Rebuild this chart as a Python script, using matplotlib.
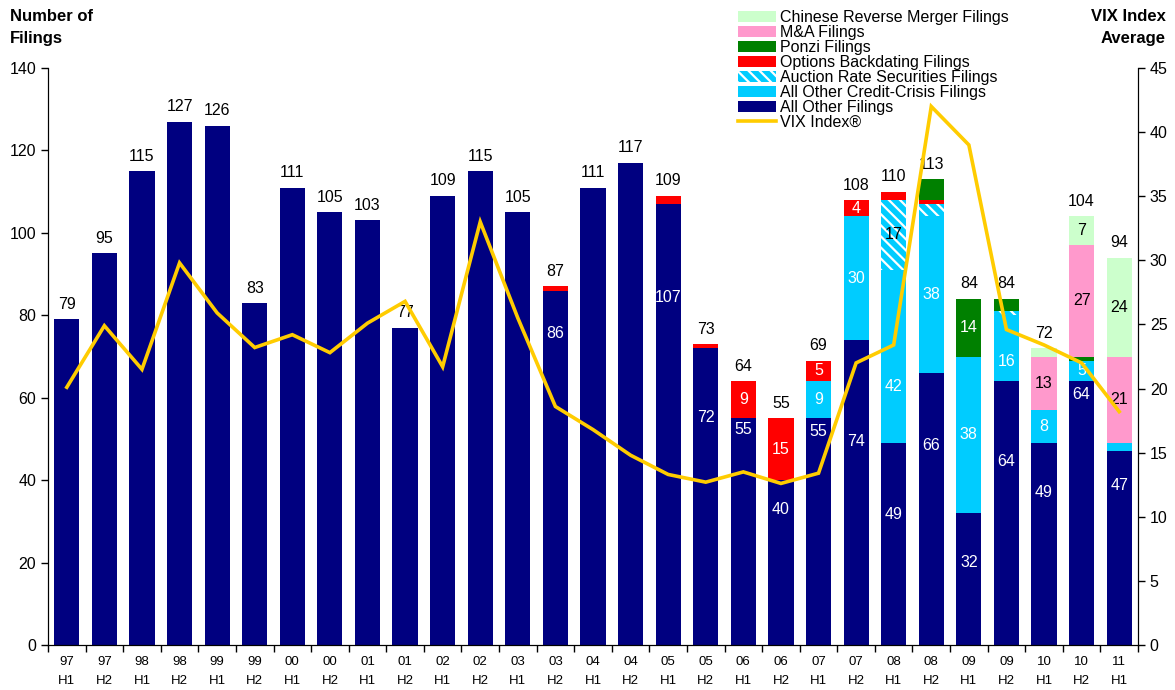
import numpy as np
import matplotlib
matplotlib.use("Agg")
import matplotlib.pyplot as plt
from matplotlib.ticker import FixedLocator
from matplotlib import font_manager

plt.rcParams['font.family'] = ['Liberation Sans', 'DejaVu Sans']
plt.rcParams['hatch.linewidth'] = 1.6

# ---------------- data ----------------
periods = ['97\nH1', '97\nH2', '98\nH1', '98\nH2', '99\nH1', '99\nH2', '00\nH1', '00\nH2',
           '01\nH1', '01\nH2', '02\nH1', '02\nH2', '03\nH1', '03\nH2', '04\nH1', '04\nH2',
           '05\nH1', '05\nH2', '06\nH1', '06\nH2', '07\nH1', '07\nH2', '08\nH1', '08\nH2',
           '09\nH1', '09\nH2', '10\nH1', '10\nH2', '11\nH1']

all_other = [79, 95, 115, 127, 126, 83, 111, 105, 103, 77, 109, 115, 105, 86, 111, 117,
             107, 72, 55, 40, 55, 74, 49, 66, 32, 64, 49, 64, 47]
credit    = [0, 0, 0, 0, 0, 0, 0, 0, 0, 0, 0, 0, 0, 0, 0, 0,
             0, 0, 0, 0, 9, 30, 42, 38, 38, 16, 8, 5, 2]
ars       = [0, 0, 0, 0, 0, 0, 0, 0, 0, 0, 0, 0, 0, 0, 0, 0,
             0, 0, 0, 0, 0, 0, 17, 3, 0, 1, 0, 0, 0]
options   = [0, 0, 0, 0, 0, 0, 0, 0, 0, 0, 0, 0, 0, 1, 0, 0,
             2, 1, 9, 15, 5, 4, 2, 1, 0, 0, 0, 0, 0]
ponzi     = [0, 0, 0, 0, 0, 0, 0, 0, 0, 0, 0, 0, 0, 0, 0, 0,
             0, 0, 0, 0, 0, 0, 0, 5, 14, 3, 0, 1, 0]
ma        = [0, 0, 0, 0, 0, 0, 0, 0, 0, 0, 0, 0, 0, 0, 0, 0,
             0, 0, 0, 0, 0, 0, 0, 0, 0, 0, 13, 27, 21]
chinese   = [0, 0, 0, 0, 0, 0, 0, 0, 0, 0, 0, 0, 0, 0, 0, 0,
             0, 0, 0, 0, 0, 0, 0, 0, 0, 0, 2, 7, 24]

vix = [20.1, 24.9, 21.5, 29.8, 25.9, 23.2, 24.2, 22.8, 25.1, 26.8, 21.7, 33.0, 25.5, 18.6,
       16.8, 14.8, 13.3, 12.7, 13.5, 12.6, 13.4, 22.0, 23.4, 42.0, 39.0, 24.6, 23.4, 22.0, 18.2]

# label layout (data-unit heights for the navy-segment labels, as placed in the original)
navy_label_y = {13: 75.7, 16: 84.2, 17: 55.3, 18: 52.2, 19: 32.8, 20: 51.8, 21: 49.3,
                22: 31.6, 23: 48.5, 24: 19.9, 25: 44.5, 26: 36.9, 27: 60.7, 28: 38.8}
label_y_override = {('credit', 22): 62.7, ('credit', 25): 68.8}
label_skip = {('ponzi', 23)}

# narrow font for the category labels if available
avail = {f.name for f in font_manager.fontManager.ttflist}
xfam = ['Liberation Sans Narrow', 'Liberation Sans'] if 'Liberation Sans Narrow' in avail \
    else ['Liberation Sans', 'DejaVu Sans']
xsize = 10 if 'Liberation Sans Narrow' in avail else 9.5

# ---------------- figure ----------------
fig = plt.figure(figsize=(11.75, 6.9), dpi=100)
ax = fig.add_axes([48 / 1175, 45 / 690, 1090 / 1175, 577 / 690])
x = np.arange(len(periods))
w = 0.67

series = [
    ('other', all_other, '#000080', None, 'white', 'All Other Filings'),
    ('credit', credit, '#00CCFF', None, 'white', 'All Other Credit-Crisis Filings'),
    ('ars', ars, '#00CCFF', '\\\\\\', 'black', 'Auction Rate Securities Filings'),
    ('options', options, '#FF0000', None, 'white', 'Options Backdating Filings'),
    ('ponzi', ponzi, '#008000', None, 'white', 'Ponzi Filings'),
    ('ma', ma, '#FF99CC', None, 'black', 'M&A Filings'),
    ('chinese', chinese, '#CCFFCC', None, 'black', 'Chinese Reverse Merger Filings'),
]

bottom = np.zeros(len(periods))
handles = {}
totals = np.sum([np.array(s[1]) for s in series], axis=0)
for key, vals, col, hatch, tcol, lab in series:
    vals = np.array(vals, dtype=float)
    if hatch:
        b = ax.bar(x, vals, w, bottom=bottom, color=col, hatch=hatch,
                   edgecolor='white', linewidth=0, label=lab, zorder=2)
    else:
        b = ax.bar(x, vals, w, bottom=bottom, color=col, linewidth=0, label=lab, zorder=2)
    handles[key] = b
    for i, v in enumerate(vals):
        if v <= 0:
            continue
        if key == 'other':
            if totals[i] == v:
                continue
            yl = navy_label_y.get(i, v / 2)
        else:
            if v < 4 or (key, i) in label_skip:
                continue
            yl = label_y_override.get((key, i), bottom[i] + v / 2)
        ax.text(x[i], yl, f'{int(v)}', ha='center', va='center', color=tcol,
                fontsize=11.5, zorder=3)
    bottom = bottom + vals

for i, t in enumerate(totals):
    ax.text(x[i], t + 3.6, f'{int(t)}', ha='center', va='center', color='black',
            fontsize=11.5, zorder=3)

ax.set_xlim(-0.5, len(periods) - 0.5)
ax.set_ylim(0, 140)
ax.set_yticks(np.arange(0, 141, 20))
ax.set_xticks(x)
ax.set_xticklabels(periods, fontsize=xsize, linespacing=1.8, family=xfam)
ax.xaxis.set_minor_locator(FixedLocator(np.arange(-0.5, len(periods), 1.0)))
ax.tick_params(axis='x', which='major', length=0, pad=8)
ax.tick_params(axis='x', which='minor', length=5, direction='out', width=1)
ax.tick_params(axis='y', length=5, direction='out', labelsize=11.5, width=1)
ax.spines['top'].set_visible(False)

ax2 = ax.twinx()
ax2.set_ylim(0, 45)
ax2.set_yticks(np.arange(0, 46, 5))
line, = ax2.plot(x, vix, color='#FFCC00', linewidth=2.6, label='VIX Index®', zorder=4,
                 solid_joinstyle='miter')
ax2.tick_params(axis='y', length=5, direction='out', labelsize=11.5, width=1)
ax2.spines['top'].set_visible(False)

fig.text(10 / 1175, 1 - 9 / 690, 'Number of\nFilings', ha='left', va='top',
         fontsize=12, fontweight='bold', linespacing=1.6)
fig.text(1166 / 1175, 1 - 9 / 690, 'VIX Index\nAverage', ha='right', va='top',
         fontsize=12, fontweight='bold', linespacing=1.6)

order = ['chinese', 'ma', 'ponzi', 'options', 'ars', 'credit', 'other']
leg_h = [handles[k] for k in order] + [line]
leg_l = [h.get_label() for h in leg_h]
fig.legend(leg_h, leg_l, loc='upper left', bbox_to_anchor=(738 / 1175, 1 - 10 / 690),
           frameon=False, fontsize=11.5, labelspacing=0.0, handlelength=2.4,
           handleheight=0.75, handletextpad=0.25, borderpad=0, borderaxespad=0)

fig.savefig('out.png', dpi=100)
